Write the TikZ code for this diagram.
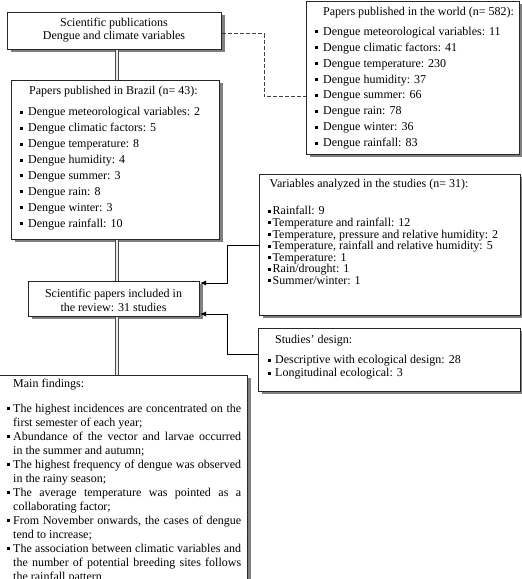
\documentclass[tikz,border=0pt]{standalone}
\usepackage{fontspec}
\setmainfont{Liberation Serif}
\usetikzlibrary{shadows,arrows.meta}
\newcommand{\sqb}{\rule[2pt]{3pt}{3pt}}
\newcommand{\itm}[1]{\makebox[#1][l]{\sqb}}
\tikzset{
  box/.style={draw=black!85, line width=1pt, fill=white, inner sep=0pt, anchor=north west,
     drop shadow={shadow xshift=3pt, shadow yshift=-3pt, fill=black!50, opacity=1}},
  txt/.style={inner sep=0pt, anchor=north west, align=left,
     font={\fontsize{12}{#1}\selectfont}},
  dbl/.style={draw=black!70, line width=0.9pt, double=black!8, double distance=1.3pt},
  dsh/.style={draw=black!75, line width=1pt, dash pattern=on 4pt off 2pt},
  dshs/.style={draw=black!35, line width=1pt, dash pattern=on 4pt off 2pt},
  arr/.style={draw=black, line width=0.9pt, -{Latex[length=6pt,width=5pt]}},
  arrs/.style={draw=black!40, line width=0.9pt}
}
\begin{document}
\lineskiplimit=-5pt
\begin{tikzpicture}[x=1pt,y=1pt]
\useasboundingbox (0,0) rectangle (522,579);

% connector coordinates
\coordinate (v) at (117,0);
\coordinate (d1) at (264,545);
\coordinate (d2) at (264,482);
\coordinate (a1) at (227,334);
\coordinate (a2) at (227,296);
\coordinate (a3) at (227,225);
\coordinate (a4) at (227,265);

% boxes
\node[box, minimum width=214pt, minimum height=37pt] (b1) at (7,567) {};
\node[box, minimum width=213pt, minimum height=153pt] (b2) at (306,578) {};
\node[box, minimum width=208pt, minimum height=159pt] (b3) at (11,499) {};
\node[box, minimum width=261pt, minimum height=141pt] (b4) at (259,405) {};
\node[box, minimum width=171pt, minimum height=35pt] (b5) at (28,298) {};
\node[box, minimum width=262pt, minimum height=63pt] (b6) at (258,251) {};
\node[box, minimum width=250pt, minimum height=240pt] (b7) at (-3,204) {};

% vertical double connectors
\draw[dbl] (b1.south -| v) -- (b3.north -| v);
\draw[dbl] (b3.south -| v) -- (b5.north -| v);
\draw[dbl] (b5.south -| v) -- (b7.north -| v);

% dashed connector
\draw[dshs, xshift=1.6pt, yshift=-1.6pt] (b1.east |- d1) -- (d1) -- (d2) -- (b2.west |- d2);
\draw[dsh] (b1.east |- d1) -- (d1) -- (d2) -- (b2.west |- d2);

% arrow connectors with shadow
\draw[arrs, xshift=1.6pt, yshift=-1.6pt] (b4.west |- a1) -- (a1) -- (a2) -- ([xshift=6pt]b5.east |- a2);
\draw[arr] (b4.west |- a1) -- (a1) -- (a2) -- (b5.east |- a2);
\draw[arrs, xshift=1.6pt, yshift=-1.6pt] (b6.west |- a3) -- (a3) -- (a4) -- ([xshift=6pt]b5.east |- a4);
\draw[arr] (b6.west |- a3) -- (a3) -- (a4) -- (b5.east |- a4);

% texts
\node[txt=13, anchor=center, align=center] (t1) at (114,548.5)
  {Scientific publications\\Dengue and climate variables};

\node[txt=15.9] (t2) at (315,572.3)
  {\rule{0pt}{9pt}\hspace*{8pt}Papers published in the world (n= 582):\\[3.6pt]
   \itm{8pt}Dengue meteorological variables: 11\\
   \itm{8pt}Dengue climatic factors: 41\\
   \itm{8pt}Dengue temperature: 230\\
   \itm{8pt}Dengue humidity: 37\\
   \itm{8pt}Dengue summer: 66\\
   \itm{8pt}Dengue rain: 78\\
   \itm{8pt}Dengue winter: 36\\
   \itm{8pt}Dengue rainfall: 83};

\node[txt=15.9] (t3) at (20,493.3)
  {\rule{0pt}{9pt}\hspace*{9pt}Papers published in Brazil (n= 43):\\[5.1pt]
   \itm{8pt}Dengue meteorological variables: 2\\
   \itm{8pt}Dengue climatic factors: 5\\
   \itm{8pt}Dengue temperature: 8\\
   \itm{8pt}Dengue humidity: 4\\
   \itm{8pt}Dengue summer: 3\\
   \itm{8pt}Dengue rain: 8\\
   \itm{8pt}Dengue winter: 3\\
   \itm{8pt}Dengue rainfall: 10};

\node[txt=11.6] (t4) at (267.5,400.3)
  {\rule{0pt}{9pt}\hspace*{2pt}Variables analyzed in the studies (n= 31):\\[15.4pt]
   \itm{5pt}Rainfall: 9\\
   \itm{5pt}Temperature and rainfall: 12\\
   \itm{5pt}Temperature, pressure and relative humidity: 2\\
   \itm{5pt}Temperature, rainfall and relative humidity: 5\\
   \itm{5pt}Temperature: 1\\
   \itm{5pt}Rain/drought: 1\\
   \itm{5pt}Summer/winter: 1};

\node[txt=14, anchor=center, align=center] (t5) at (113.5,278.8)
  {Scientific papers included in\\the review: 31 studies};

\node[txt=13] (t6) at (267.5,244.3)
  {\rule{0pt}{9pt}\hspace*{7.5pt}Studies' design:\\[7pt]
   \itm{7.5pt}Descriptive with ecological design: 28\\
   \itm{7.5pt}Longitudinal ecological: 3};

\node[txt=14, text width=234.5pt, align=justify] (t7) at (6.5,201)
  {\hyphenpenalty=10000\noindent\hspace*{6.5pt}\rule{0pt}{9pt}Main findings:\par\vspace{11pt}
   \hangindent=6.5pt\hangafter=1\noindent\itm{6.5pt}The highest incidences are concentrated on the\linebreak first semester of each year;\par
   \hangindent=6.5pt\hangafter=1\noindent\itm{6.5pt}Abundance of the vector and larvae occurred\linebreak in the summer and autumn;\par
   \hangindent=6.5pt\hangafter=1\noindent\itm{6.5pt}The highest frequency of dengue was observed\linebreak in the rainy season;\par
   \hangindent=6.5pt\hangafter=1\noindent\itm{6.5pt}The average temperature was pointed as a\linebreak collaborating factor;\par
   \hangindent=6.5pt\hangafter=1\noindent\itm{6.5pt}From November onwards, the cases of dengue\linebreak tend to increase;\par
   \hangindent=6.5pt\hangafter=1\noindent\itm{6.5pt}The association between climatic variables and\linebreak the number of potential breeding sites follows\linebreak the rainfall pattern.\par};
\end{tikzpicture}
\end{document}
